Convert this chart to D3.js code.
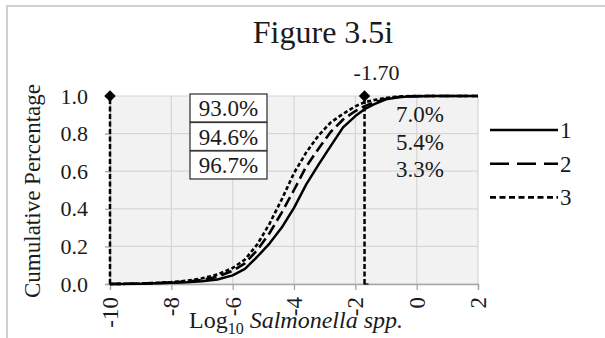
<!DOCTYPE html>
<html>
<head>
<meta charset="utf-8">
<script src="https://cdn.jsdelivr.net/npm/d3@7"></script>
<style>
  html, body { margin: 0; padding: 0; background: #fff; }
  svg { display: block; }
  text { font-family: "Liberation Serif", "Times New Roman", serif; fill: #1a1a1a; }
</style>
</head>
<body>
<svg id="chart" width="605" height="338"></svg>
<script>
// Log10 concentration grid (x) and cumulative fraction for each scenario
const logValues = [-10, -9, -8, -7.5, -7, -6.5, -6, -5.6, -5.2, -4.8, -4.4, -4.0, -3.6, -3.2, -2.8, -2.4, -2.0, -1.7, -1.4, -1.0, -0.6, -0.2, 0.5, 1, 2];
const series1 = [0, 0.001, 0.006, 0.009, 0.015, 0.024, 0.046, 0.08, 0.145, 0.215, 0.30, 0.405, 0.53, 0.635, 0.735, 0.833, 0.893, 0.930, 0.955, 0.982, 0.993, 0.998, 1.0, 1.0, 1.0];
const series2 = [0, 0.002, 0.008, 0.013, 0.022, 0.038, 0.07, 0.11, 0.18, 0.27, 0.38, 0.50, 0.625, 0.72, 0.81, 0.875, 0.92, 0.946, 0.965, 0.985, 0.995, 0.999, 1.0, 1.0, 1.0];
const series3 = [0, 0.002, 0.010, 0.017, 0.030, 0.050, 0.085, 0.13, 0.21, 0.32, 0.45, 0.59, 0.70, 0.79, 0.86, 0.905, 0.945, 0.967, 0.978, 0.99, 0.997, 1.0, 1.0, 1.0, 1.0];
const seriesNames = ["1", "2", "3"];

// Reference markers: lower bound and threshold
const markerX = [-10, -1.70];
const thresholdLabel = "-1.70";
// Cumulative percentage below the threshold for each scenario
const belowPct = [93.0, 94.6, 96.7];

const xTicks = [-10, -8, -6, -4, -2, 0, 2];
const yTicks = [0, 0.2, 0.4, 0.6, 0.8, 1.0];

const svg = d3.select("#chart");

// Outer frame
svg.append("rect")
  .attr("x", 7).attr("y", 6).attr("width", 640).attr("height", 400)
  .attr("fill", "#fff").attr("stroke", "#cfcfcf").attr("stroke-width", 2);

const x = d3.scaleLinear().domain([-10, 2]).range([110, 478]);
const y = d3.scaleLinear().domain([0, 1]).range([284, 96]);

// Plot area
svg.append("rect")
  .attr("x", x(-10)).attr("y", y(1))
  .attr("width", x(2) - x(-10)).attr("height", y(0) - y(1))
  .attr("fill", "#f2f2f2");

// Gridlines
svg.append("g").selectAll("line").data(yTicks).join("line")
  .attr("x1", x(-10)).attr("x2", x(2))
  .attr("y1", d => y(d)).attr("y2", d => y(d))
  .attr("stroke", "#d6d6d6").attr("stroke-width", 1.2);
svg.append("g").selectAll("line").data(xTicks).join("line")
  .attr("y1", y(0)).attr("y2", y(1))
  .attr("x1", d => x(d)).attr("x2", d => x(d))
  .attr("stroke", "#d6d6d6").attr("stroke-width", 1.2);

// Axes
const yAxis = svg.append("g")
  .attr("transform", `translate(${x(-10)},0)`)
  .call(d3.axisLeft(y).tickValues(yTicks).tickFormat(d3.format(".1f")).tickSize(5).tickPadding(17));
const xAxis = svg.append("g")
  .attr("transform", `translate(0,${y(0)})`)
  .call(d3.axisBottom(x).tickValues(xTicks).tickFormat(d => String(d)).tickSize(6));

[yAxis, xAxis].forEach(g => {
  g.select(".domain").attr("stroke", "#a6a6a6").attr("stroke-width", 1.3);
  g.selectAll(".tick line").attr("stroke", "#a6a6a6").attr("stroke-width", 1.3);
  g.selectAll("text")
    .style("font-family", '"Liberation Serif", "Times New Roman", serif')
    .attr("fill", "#1a1a1a");
});
yAxis.selectAll("text").style("font-size", "22px");
xAxis.selectAll("text")
  .style("font-size", "23px")
  .attr("text-anchor", "end")
  .attr("transform", "rotate(-90)")
  .attr("x", -13).attr("y", 0).attr("dy", "0.33em");

// Cumulative curves
const styles = [
  { dash: null, width: 2.5 },
  { dash: "11,5", width: 2.6 },
  { dash: "4,2.5", width: 2.6 }
];
const allSeries = [series1, series2, series3];
const line = d3.line().x(d => x(d[0])).y(d => y(d[1]));

// Vertical marker lines with diamonds
const markers = svg.append("g");
markers.selectAll("line.v").data(markerX).join("line")
  .attr("class", "v")
  .attr("x1", d => x(d)).attr("x2", d => x(d))
  .attr("y1", y(0)).attr("y2", y(1))
  .attr("stroke", "#000").attr("stroke-width", 2.5).attr("stroke-dasharray", "5,2.5");
markers.selectAll("line.cap").data(markerX).join("line")
  .attr("class", "cap")
  .attr("x1", d => x(d) - 1).attr("x2", d => x(d) + 4)
  .attr("y1", y(0)).attr("y2", y(0))
  .attr("stroke", "#000").attr("stroke-width", 1.2);

svg.append("g").selectAll("path").data(allSeries).join("path")
  .attr("d", s => line(logValues.map((v, i) => [v, s[i]])))
  .attr("fill", "none")
  .attr("stroke", "#000")
  .attr("stroke-width", (s, i) => styles[i].width)
  .attr("stroke-dasharray", (s, i) => styles[i].dash)
  .attr("stroke-linejoin", "round");

markers.selectAll("path").data(markerX).join("path")
  .attr("d", d3.symbol(d3.symbolSquare, 66))
  .attr("transform", d => `translate(${x(d)},${y(1)}) rotate(45)`)
  .attr("fill", "#000");

// Threshold label
svg.append("text")
  .attr("x", x(markerX[1]) + 12).attr("y", 80)
  .attr("text-anchor", "middle")
  .style("font-size", "22px")
  .text(thresholdLabel);

// Boxed percentages below threshold
const boxW = 77, boxH = 28, boxX = 190, boxY0 = 94;
const boxes = svg.append("g").selectAll("g").data(belowPct).join("g")
  .attr("transform", (d, i) => `translate(${boxX},${boxY0 + i * 28.5})`);
boxes.append("rect")
  .attr("width", boxW).attr("height", boxH)
  .attr("fill", "#fff").attr("stroke", "#3a3a3a").attr("stroke-width", 1.3);
boxes.append("text")
  .attr("x", boxW / 2).attr("y", boxH / 2).attr("dy", "0.36em")
  .attr("text-anchor", "middle")
  .style("font-size", "23px")
  .text(d => d.toFixed(1) + "%");

// Percentages above threshold
svg.append("g").selectAll("text").data(belowPct).join("text")
  .attr("x", 420).attr("y", (d, i) => 122 + i * 27.5)
  .attr("text-anchor", "middle")
  .style("font-size", "23px")
  .attr("fill", "#333")
  .text(d => (100 - d).toFixed(1) + "%");

// Legend
const legend = svg.append("g").selectAll("g").data(seriesNames).join("g")
  .attr("transform", (d, i) => `translate(490,${130 + i * 33.7})`);
legend.append("line")
  .attr("x1", 0).attr("x2", 68)
  .attr("stroke", "#000")
  .attr("stroke-width", (d, i) => styles[i].width)
  .attr("stroke-dasharray", (d, i) => i === 1 ? "19,8" : (i === 2 ? "6,3.5" : null));
legend.append("text")
  .attr("x", 70).attr("y", 0).attr("dy", "0.34em")
  .style("font-size", "23px")
  .text(d => d);

// Title
svg.append("text")
  .attr("x", 323).attr("y", 43)
  .attr("text-anchor", "middle")
  .style("font-size", "32px")
  .text("Figure 3.5i");

// Axis titles
svg.append("text")
  .attr("transform", "translate(40,191) rotate(-90)")
  .attr("text-anchor", "middle")
  .style("font-size", "23px")
  .text("Cumulative Percentage");

const xt = svg.append("text")
  .attr("x", 296).attr("y", 328)
  .attr("text-anchor", "middle")
  .style("font-size", "24px");
xt.append("tspan").text("Log");
xt.append("tspan").attr("dy", 6).style("font-size", "16px").text("10");
xt.append("tspan").attr("dy", -6).text(" ");
xt.append("tspan").style("font-style", "italic").text("Salmonella spp.");
</script>
</body>
</html>
